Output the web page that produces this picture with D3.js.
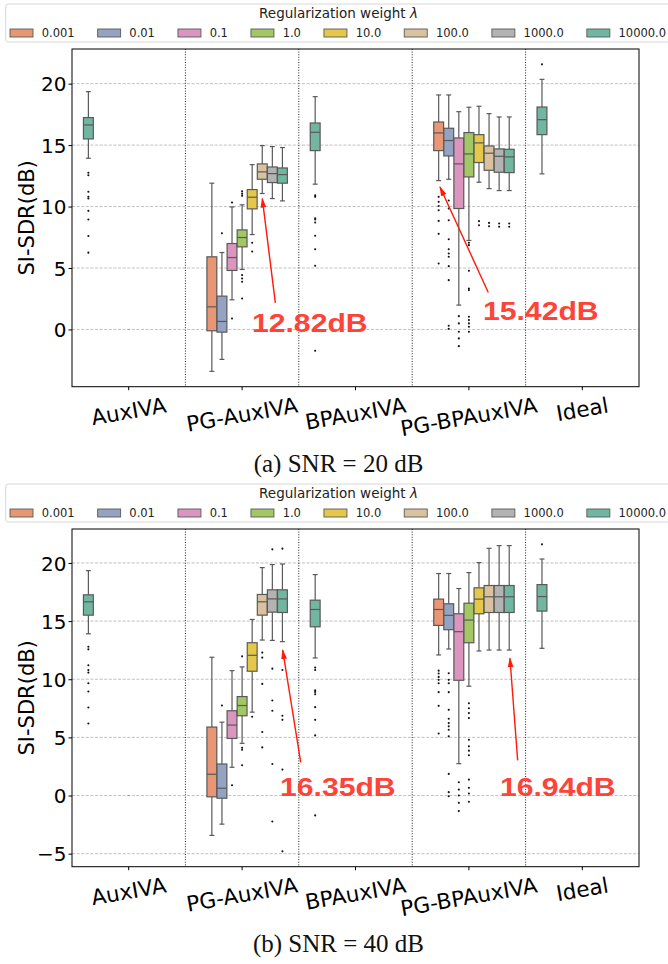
<!DOCTYPE html>
<html><head><meta charset="utf-8">
<script src="https://cdn.jsdelivr.net/npm/d3@7"></script>
<style>body{margin:0;background:#fff}svg{display:block}</style>
</head><body>
<svg id="c" width="668" height="964"></svg>
<script>
// ---------- data ----------
const methods = ["AuxIVA", "PG-AuxIVA", "BPAuxIVA", "PG-BPAuxIVA", "Ideal"];
const lambdas = ["0.001", "0.01", "0.1", "1.0", "10.0", "100.0", "1000.0", "10000.0"];
const hueKeys = ["none"].concat(lambdas);
const palette = ["#71b6a1", "#e99675", "#95a3c3", "#db96c0", "#a2c764", "#e5c849", "#dbc29e", "#b3b3b3", "#71b6a1"];
const legendTitle = "Regularization weight ";
const yLabel = "SI-SDR(dB)";
const ticksA = [0, 5, 10, 15, 20];
const ticksB = [-5, 0, 5, 10, 15, 20];

// box stats: [whiskerLow, q1, median, q3, whiskerHigh]
// ---- (a) SNR = 20 dB ----
const aAuxIVA = [13.93, 15.50, 16.64, 17.24, 19.35];
const aAuxIVAOut = [12.75, 12.55, 11.2, 10.8, 10.65, 9.65, 8.95, 7.6, 6.25];
const aBPAuxIVA = [11.82, 14.55, 16.04, 16.80, 18.94];
const aBPAuxIVAOut = [10.92, 10.79, 9.05, 8.94, 8.7, 7.62, 6.53, 5.18, -1.73];
const aIdeal = [12.66, 15.85, 17.07, 18.10, 20.35];
const aIdealOut = [21.57];
const aPGAuxIVA = [
  [-3.41, -0.11, 1.84, 5.91, 11.90],
  [-2.44, -0.22, 0.65, 2.71, 6.26],
  [2.41, 4.80, 5.85, 6.99, 9.97],
  [4.88, 6.72, 7.48, 8.10, 10.14],
  [7.72, 9.81, 10.76, 11.38, 13.41],
  [11.06, 12.22, 12.82, 13.47, 14.96],
  [10.65, 11.95, 12.68, 13.22, 14.88],
  [10.46, 11.90, 12.60, 13.14, 14.80]
];
const aPGAuxIVAOut = [
  [], [7.83], [10.33, 0.89], [11.25, 11.05, 10.87, 4.42, 4.15, 3.88, 2.52],
  [7.05, 6.34], [], [], []
];
const aPGBPAuxIVA = [
  [12.11, 14.55, 15.99, 16.88, 19.08],
  [12.22, 14.12, 15.37, 16.37, 19.08],
  [1.98, 9.84, 13.47, 15.58, 17.72],
  [7.24, 12.41, 14.28, 16.02, 18.08],
  [11.98, 13.58, 15.18, 15.85, 18.16],
  [11.46, 12.95, 14.34, 14.93, 17.56],
  [11.30, 12.79, 14.09, 14.69, 17.29],
  [11.30, 12.76, 14.04, 14.66, 17.29]
];
const aPGBPAuxIVAOut = [
  [10.79, 10.38, 10.05, 9.7, 8.83, 7.78, 5.37],
  [10.49, 9.84, 8.89, 7.34, 6.53, 6.18, 5.91, 5.15, 4.01, 0.3, 0.05],
  [1.08, 0.49, -0.19, -0.73, -1.36],
  [7.05, 6.86, 4.77, 3.33, 3.2, 1.03, 0.76, 0.49, 0.22, -0.19],
  [8.81, 8.48], [8.67, 8.4], [8.62, 8.35], [8.62, 8.35]
];
const aAnnotLabels = ["12.82dB", "15.42dB"];
const aAnnotText = [[1.087, -0.2], [3.124, 0.76]];
const aAnnotTail = [[1.293, 2.16], [3.171, 3.01]];
const aAnnotHead = [[1.178, 10.65], [2.745, 11.59]];

// ---- (b) SNR = 40 dB ----
const bAuxIVA = [13.91, 15.51, 16.66, 17.26, 19.34];
const bAuxIVAOut = [12.8, 12.57, 11.2, 10.8, 10.57, 9.66, 8.94, 7.57, 6.2];
const bBPAuxIVA = [11.83, 14.51, 16.00, 16.80, 19.00];
const bBPAuxIVAOut = [11.0, 10.8, 9.06, 8.91, 8.71, 7.6, 6.51, 5.17, -1.71];
const bIdeal = [12.66, 15.86, 17.11, 18.14, 20.34];
const bIdealOut = [21.6];
const bPGAuxIVA = [
  [-3.43, -0.11, 1.83, 5.89, 11.89],
  [-2.46, -0.23, 0.63, 2.71, 6.31],
  [2.43, 4.91, 6.06, 7.29, 10.74],
  [4.49, 6.86, 7.74, 8.51, 11.06],
  [7.17, 10.69, 12.06, 13.14, 15.14],
  [13.37, 15.51, 16.66, 17.29, 19.60],
  [13.34, 15.77, 16.91, 17.69, 19.86],
  [13.23, 15.74, 16.91, 17.69, 19.91]
];
const bPGAuxIVAOut = [
  [], [7.74], [0.89], [11.97, 4.11, 3.94, 2.6], [6.77],
  [12.29, 11.86, 9.6, 5.46, 4.14],
  [21.17, 10.91, 8.17, 7.29, 2.71, -2.23],
  [21.23, 10.8, 6.86, 6.51, 2.23, -4.8]
];
const bPGBPAuxIVA = [
  [12.09, 14.63, 16.00, 16.89, 19.09],
  [12.60, 14.26, 15.49, 16.49, 19.09],
  [2.74, 9.91, 14.09, 15.63, 17.80],
  [9.40, 13.14, 15.09, 16.54, 19.17],
  [12.43, 15.63, 16.89, 17.86, 20.03],
  [12.51, 15.74, 17.09, 18.06, 21.26],
  [12.51, 15.74, 17.09, 18.06, 21.49],
  [12.51, 15.74, 17.09, 18.06, 21.49]
];
const bPGBPAuxIVAOut = [
  [10.74, 10.5, 10.2, 9.95, 9.66, 8.89, 7.71, 5.34],
  [10.51, 9.95, 9.66, 8.89, 7.37, 6.6, 6.23, 5.95, 5.66, 5.09, 1.86, 0.29, -0.06],
  [1.14, 0.51, 0.0, -0.63, -1.34],
  [7.94, 7.51, 7.09, 6.66, 4.8, 4.23, 3.86, 3.46, 1.37, 0.66, 0.17, -0.54],
  [], [], [], []
];
const bAnnotLabels = ["16.35dB", "16.94dB"];
const bAnnotText = [[1.334, -0.06], [3.274, -0.06]];
const bAnnotTail = [[1.517, 2.85], [3.43, 3.02]];
const bAnnotHead = [[1.358, 12.51], [3.362, 11.8]];

// ---------- build tables ----------
function buildRows(aux, auxO, bp, bpO, ideal, idealO, pg, pgO, pgbp, pgbpO) {
  const rows = [
    {method: "AuxIVA", hue: "none", s: aux, out: auxO},
    {method: "BPAuxIVA", hue: "none", s: bp, out: bpO},
    {method: "Ideal", hue: "none", s: ideal, out: idealO}
  ];
  lambdas.forEach((l, i) => {
    rows.push({method: "PG-AuxIVA", hue: l, s: pg[i], out: pgO[i]});
    rows.push({method: "PG-BPAuxIVA", hue: l, s: pgbp[i], out: pgbpO[i]});
  });
  return rows;
}
const rowsA = buildRows(aAuxIVA, aAuxIVAOut, aBPAuxIVA, aBPAuxIVAOut, aIdeal, aIdealOut, aPGAuxIVA, aPGAuxIVAOut, aPGBPAuxIVA, aPGBPAuxIVAOut);
const rowsB = buildRows(bAuxIVA, bAuxIVAOut, bBPAuxIVA, bBPAuxIVAOut, bIdeal, bIdealOut, bPGAuxIVA, bPGAuxIVAOut, bPGBPAuxIVA, bPGBPAuxIVAOut);

// ---------- layout ----------
const svg = d3.select("#c");
const X0 = 72, X1 = 639;
const x = d3.scaleBand().domain(methods).range([X0, X1]);
const hue = d3.scaleBand().domain(hueKeys).range([0, x.bandwidth() * 0.8]);
const xi = d3.scaleLinear().domain([-0.5, methods.length - 0.5]).range([X0, X1]);
const gray = "#595959";
const SANS = "DejaVu Sans";
const XFS = 21.5;
const hueCenter = (m, h) => x(m) + x.bandwidth() * 0.1 + hue(h) + hue.bandwidth() / 2;

const defs = svg.append("defs");
defs.append("marker").attr("id", "arr").attr("markerUnits", "userSpaceOnUse")
  .attr("markerWidth", 10).attr("markerHeight", 7).attr("refX", 9).attr("refY", 3.5)
  .attr("orient", "auto")
  .append("path").attr("d", "M0,0.6 L10,3.5 L0,6.4 Z").attr("fill", "#ff1a0a");

const panels = [
  {rows: rowsA, ticks: ticksA, top: 49, bottom: 386.7, legendTop: 4, caption: "(a) SNR = 20 dB", capY: 472,
   labels: aAnnotLabels, txt: aAnnotText, tail: aAnnotTail, head: aAnnotHead},
  {rows: rowsB, ticks: ticksB, top: 529, bottom: 866.7, legendTop: 484, caption: "(b) SNR = 40 dB", capY: 952,
   labels: bAnnotLabels, txt: bAnnotText, tail: bAnnotTail, head: bAnnotHead}
];

panels.forEach(cfg => {
  const g = svg.append("g");
  const all = cfg.rows.flatMap(r => r.s.concat(r.out));
  const mn = d3.min(all), mx = d3.max(all), pad = (mx - mn) * 0.05;
  const y = d3.scaleLinear().domain([mn - pad, mx + pad]).range([cfg.bottom, cfg.top]);

  // legend
  const lg = g.append("g");
  lg.append("rect").attr("x", 5.7).attr("y", cfg.legendTop).attr("width", 720).attr("height", 38)
    .attr("rx", 3).attr("fill", "#fff").attr("stroke", "#d8d8d8").attr("stroke-width", 1);
  const tt = lg.append("text").attr("x", 338.5).attr("y", cfg.legendTop + 14.4).attr("text-anchor", "middle")
    .attr("font-family", SANS).attr("font-size", 13.5).attr("fill", "#222").text(legendTitle);
  tt.append("tspan").attr("font-style", "italic").text("λ");
  let cx = 10;
  lambdas.forEach((l, i) => {
    lg.append("rect").attr("x", cx).attr("y", cfg.legendTop + 25).attr("width", 23).attr("height", 8)
      .attr("fill", palette[i + 1]).attr("stroke", gray).attr("stroke-width", 0.9);
    const t = lg.append("text").attr("x", cx + 31.7).attr("y", cfg.legendTop + 32.8)
      .attr("font-family", SANS).attr("font-size", 11.5).attr("fill", "#222").text(l);
    cx += 31.7 + t.node().getComputedTextLength() + 23;
  });

  // grid
  g.append("g").selectAll("line").data(cfg.ticks).join("line")
    .attr("x1", X0).attr("x2", X1).attr("y1", d => y(d)).attr("y2", d => y(d))
    .attr("stroke", "#b0b0b0").attr("stroke-width", 0.8).attr("stroke-dasharray", "3,1.6");
  // separators
  g.append("g").selectAll("line").data(methods.slice(1)).join("line")
    .attr("x1", d => x(d)).attr("x2", d => x(d)).attr("y1", cfg.top).attr("y2", cfg.bottom)
    .attr("stroke", "#222").attr("stroke-width", 1).attr("stroke-dasharray", "1,1.6");

  // tiny empty-group mark
  g.append("rect").attr("x", hueCenter("AuxIVA", "1.0") - 1).attr("y", y(0) - 0.5)
    .attr("width", 2).attr("height", 1).attr("fill", "#999");

  // boxes
  const bw = hue.bandwidth() * 0.98;
  g.append("g").selectAll("g").data(cfg.rows).join("g").each(function (r) {
    const s = d3.select(this);
    const c = hueCenter(r.method, r.hue);
    const col = palette[hueKeys.indexOf(r.hue)];
    const [lo, q1, md, q3, hi] = r.s;
    s.append("line").attr("x1", c).attr("x2", c).attr("y1", y(lo)).attr("y2", y(q1));
    s.append("line").attr("x1", c).attr("x2", c).attr("y1", y(q3)).attr("y2", y(hi));
    s.append("line").attr("x1", c - bw / 4).attr("x2", c + bw / 4).attr("y1", y(lo)).attr("y2", y(lo));
    s.append("line").attr("x1", c - bw / 4).attr("x2", c + bw / 4).attr("y1", y(hi)).attr("y2", y(hi));
    s.selectAll("line").attr("stroke", gray).attr("stroke-width", 1.2);
    s.append("rect").attr("x", c - bw / 2).attr("width", bw).attr("y", y(q3)).attr("height", y(q1) - y(q3))
      .attr("fill", col).attr("stroke", gray).attr("stroke-width", 1.2);
    s.append("line").attr("x1", c - bw / 2).attr("x2", c + bw / 2).attr("y1", y(md)).attr("y2", y(md))
      .attr("stroke", gray).attr("stroke-width", 1.2);
    s.selectAll("circle").data(r.out).join("circle").attr("cx", c).attr("cy", d => y(d)).attr("r", 1.05).attr("fill", "#111");
  });

  // frame
  g.append("rect").attr("x", X0).attr("y", cfg.top).attr("width", X1 - X0).attr("height", cfg.bottom - cfg.top)
    .attr("fill", "none").attr("stroke", "#000").attr("stroke-width", 1);

  // y axis
  const ya = g.append("g").attr("transform", `translate(${X0},0)`)
    .call(d3.axisLeft(y).tickValues(cfg.ticks).tickSize(3.5).tickPadding(2)
      .tickFormat(d => d < 0 ? "\u2212" + (-d) : String(d)));
  ya.select(".domain").remove();
  ya.attr("font-family", SANS).attr("font-size", 20);
  ya.selectAll("line").attr("stroke", "#000");
  ya.selectAll("text").attr("fill", "#000").attr("dy", "0.36em");

  // x axis
  const xa = g.append("g").attr("transform", `translate(0,${cfg.bottom})`)
    .call(d3.axisBottom(x).tickSize(3.5));
  xa.select(".domain").remove();
  xa.attr("font-family", SANS).attr("font-size", XFS);
  xa.selectAll("line").attr("stroke", "#000");
  const ang = 10 * Math.PI / 180;
  xa.selectAll("text").each(function () {
    const t = d3.select(this);
    t.attr("fill", "#000").attr("y", 0).attr("dy", "0.346em").attr("text-anchor", "middle");
    const w = this.getComputedTextLength();
    const h = XFS * 1.1;
    const Hb = w * Math.sin(ang) + h * Math.cos(ang);
    t.attr("transform", `translate(0,${6.5 + Hb / 2}) rotate(-10)`);
  });

  // y label
  g.append("text").attr("transform", `translate(34,${(cfg.top + cfg.bottom) / 2}) rotate(-90)`)
    .attr("text-anchor", "middle").attr("font-family", SANS).attr("font-size", 21).attr("fill", "#000")
    .text(yLabel);

  // annotations
  cfg.labels.forEach((lab, i) => {
    g.append("line").attr("x1", xi(cfg.tail[i][0])).attr("y1", y(cfg.tail[i][1]))
      .attr("x2", xi(cfg.head[i][0])).attr("y2", y(cfg.head[i][1]))
      .attr("stroke", "#ff1a0a").attr("stroke-width", 1.4).attr("marker-end", "url(#arr)");
    g.append("text").attr("transform", `translate(${xi(cfg.txt[i][0])},${y(cfg.txt[i][1])}) scale(1.16,1)`)
      .attr("font-family", "Liberation Sans, Arial, sans-serif").attr("font-weight", "bold")
      .attr("font-size", 26).attr("fill", "#fe4438").text(lab);
  });

  // caption
  svg.append("text").attr("x", 338.5).attr("y", cfg.capY).attr("text-anchor", "middle")
    .attr("font-family", "Liberation Serif, Times New Roman, serif").attr("font-size", 25).attr("fill", "#111")
    .text(cfg.caption);
});
</script>
</body></html>
